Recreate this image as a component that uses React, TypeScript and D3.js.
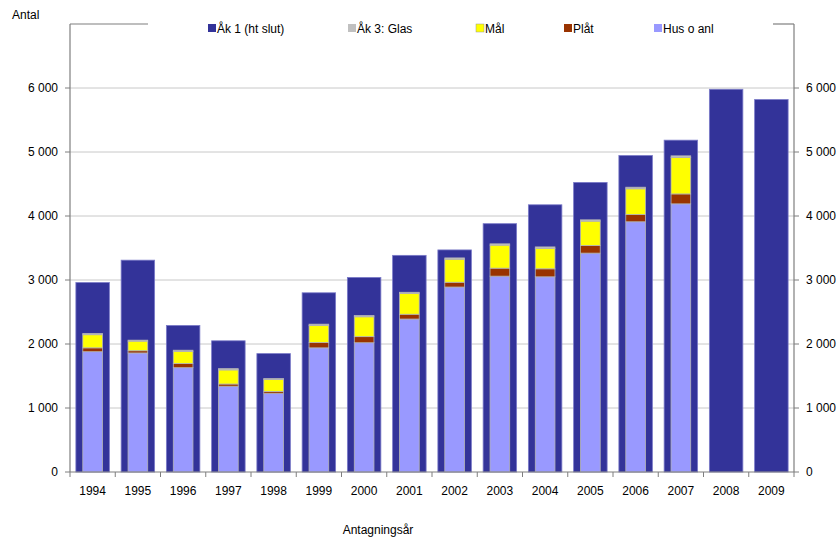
import React from "react";
import * as d3 from "d3";

// Antagningsår
const years = ["1994","1995","1996","1997","1998","1999","2000","2001","2002","2003","2004","2005","2006","2007","2008","2009"];

// Åk 1 (ht slut) — wide background bars
const ak1 = [2960, 3310, 2290, 2050, 1850, 2800, 3040, 3385, 3470, 3880, 4175, 4525, 4945, 5185, 5980, 5820];

// Åk 3 breakdown per program (no data for 2008–2009)
const husOAnl = [1880, 1860, 1630, 1340, 1230, 1940, 2020, 2390, 2890, 3060, 3050, 3420, 3910, 4190, 0, 0];
const plat = [60, 35, 65, 35, 30, 85, 95, 75, 75, 125, 125, 120, 115, 155, 0, 0];
const mal = [205, 150, 190, 220, 185, 265, 310, 325, 360, 360, 320, 380, 400, 570, 0, 0];
const glas = [20, 15, 18, 20, 15, 20, 20, 18, 20, 20, 22, 20, 25, 25, 0, 0];

const yTicks = [0, 1000, 2000, 3000, 4000, 5000, 6000];

const legendItems = [
  { label: "Åk 1 (ht slut)", color: "#333399", x: 208 },
  { label: "Åk 3: Glas", color: "#C0C0C0", x: 348 },
  { label: "Mål", color: "#FFFF00", x: 476 },
  { label: "Plåt", color: "#993300", x: 564 },
  { label: "Hus o anl", color: "#9999FF", x: 654 },
];

const stackKeys = ["hus", "plat", "mal", "glas"];
const stackColors: Record<string, string> = {
  hus: "#9999FF",
  plat: "#993300",
  mal: "#FFFF00",
  glas: "#C0C0C0",
};

const fmt = (v: number) => {
  if (v === 0) return "0";
  const s = String(v);
  return s.slice(0, s.length - 3) + " " + s.slice(-3);
};

export default function App() {
  const width = 839;
  const height = 539;
  const left = 70;
  const right = 794;
  const top = 24;
  const bottom = 472;

  const x = d3.scaleBand<string>().domain(years).range([left, right]).padding(0);
  const y = d3.scaleLinear().domain([0, 7000]).range([bottom, top]);
  const bw = x.bandwidth();
  const outerW = bw * 0.74;
  const innerW = bw * 0.435;

  const rows = years.map((yr, i) => ({
    year: yr,
    hus: husOAnl[i],
    plat: plat[i],
    mal: mal[i],
    glas: glas[i],
  }));
  const series = d3.stack<any>().keys(stackKeys)(rows);

  const font = "'Liberation Sans', Arial, sans-serif";
  const axisColor = "#7f7f7f";

  return (
    <svg width={width} height={height} style={{ display: "block", position: "absolute", left: 0, top: 0 }} fontFamily={font}>
      <rect width={width} height={height} fill="#ffffff" />

      {/* gridlines */}
      {yTicks.filter((t) => t > 0).map((t) => (
        <line key={"g" + t} x1={left} x2={right} y1={y(t)} y2={y(t)} stroke="#c8c8c8" strokeWidth={1} />
      ))}

      {/* Åk 1 bars */}
      {years.map((yr, i) => {
        const cx = x(yr)! + bw / 2;
        return (
          <rect
            key={"a" + yr}
            x={cx - outerW / 2}
            y={y(ak1[i])}
            width={outerW}
            height={y(0) - y(ak1[i])}
            fill="#333399"
            stroke="#7a7ac8"
            strokeWidth={0.8}
          />
        );
      })}

      {/* Åk 3 stacked bars */}
      {series.map((s) => (
        <g key={s.key}>
          {s.map((d, i) => {
            if (d[1] - d[0] <= 0) return null;
            const cx = x(years[i])! + bw / 2;
            return (
              <rect
                key={s.key + i}
                x={cx - innerW / 2}
                y={y(d[1])}
                width={innerW}
                height={y(d[0]) - y(d[1])}
                fill={stackColors[s.key]}
                stroke="#b4b4b4"
                strokeWidth={0.8}
              />
            );
          })}
        </g>
      ))}

      {/* left axis */}
      <line x1={left} x2={left} y1={top} y2={bottom} stroke={axisColor} strokeWidth={1.2} />
      <line x1={left} x2={148} y1={top} y2={top} stroke={axisColor} strokeWidth={1.2} />
      {/* right axis */}
      <line x1={right} x2={right} y1={top} y2={bottom} stroke={axisColor} strokeWidth={1.2} />
      <line x1={773} x2={right} y1={top} y2={top} stroke={axisColor} strokeWidth={1.2} />
      {/* bottom axis */}
      <line x1={left} x2={right} y1={bottom} y2={bottom} stroke={axisColor} strokeWidth={1.2} />

      {yTicks.map((t) => (
        <g key={"t" + t}>
          <line x1={left - 5} x2={left} y1={y(t)} y2={y(t)} stroke={axisColor} />
          <line x1={right} x2={right + 5} y1={y(t)} y2={y(t)} stroke={axisColor} />
          <text x={58} y={y(t) + 4} fontSize={12} textAnchor="end" fill="#000">{fmt(t)}</text>
          <text x={806} y={y(t) + 4} fontSize={12} textAnchor="start" fill="#000">{fmt(t)}</text>
        </g>
      ))}

      {/* category tick marks */}
      {years.map((yr) => (
        <line key={"xt" + yr} x1={x(yr)!} x2={x(yr)!} y1={bottom} y2={bottom + 5} stroke={axisColor} />
      ))}
      <line x1={right} x2={right} y1={bottom} y2={bottom + 5} stroke={axisColor} />

      {years.map((yr) => (
        <text key={"xl" + yr} x={x(yr)! + bw / 2} y={495} fontSize={12} textAnchor="middle" fill="#000">{yr}</text>
      ))}

      <text x={12} y={19} fontSize={12} fill="#000">Antal</text>
      <text x={378} y={534} fontSize={12} textAnchor="middle" fill="#000">Antagningsår</text>

      {/* legend */}
      {legendItems.map((it) => (
        <g key={it.label}>
          <rect x={it.x} y={24} width={8} height={8} fill={it.color} stroke={it.label === "Mål" ? "#999" : "none"} strokeWidth={0.5} />
          <text x={it.x + 9} y={33} fontSize={12} fill="#000">{it.label}</text>
        </g>
      ))}
    </svg>
  );
}
